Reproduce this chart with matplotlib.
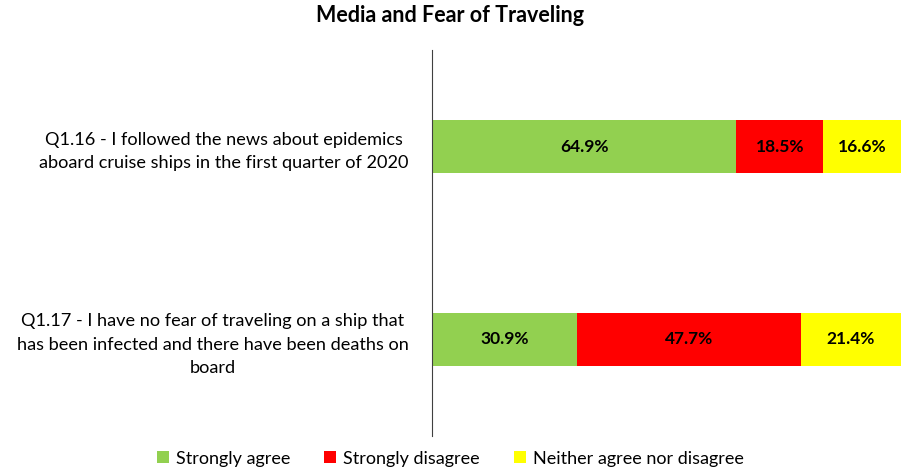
import numpy as np
import matplotlib.pyplot as plt

plt.rcParams['font.family'] = ['Lato', 'DejaVu Sans']

questions = ['Q1.16 - I followed the news about epidemics\naboard cruise ships in the first quarter of 2020',
             'Q1.17 - I have no fear of traveling on a ship that\nhas been infected and there have been deaths on\nboard']
agree = [64.9, 30.9]
disagree = [18.5, 47.7]
neither = [16.6, 21.4]
series_names = ['Strongly agree', 'Strongly disagree', 'Neither agree nor disagree']
colors = ['#92D050', '#FF0000', '#FFFF00']

fig = plt.figure(figsize=(9.01, 4.71), dpi=100)
ax = fig.add_axes([432 / 901, 1 - 436 / 471, 469 / 901, 386 / 471])

y = np.array([1, 0])
left = np.zeros(2)
for vals, name, c in zip([agree, disagree, neither], series_names, colors):
    vals = np.array(vals)
    bars = ax.barh(y, vals, left=left, height=0.27, color=c, label=name)
    for b, v in zip(bars, vals):
        ax.text(b.get_x() + b.get_width() / 2, b.get_y() + b.get_height() / 2,
                '%.1f%%' % v, ha='center', va='center', fontsize=12.5, fontweight='bold')
    left = left + vals

ax.set_xlim(0, 100)
ax.set_ylim(-0.5, 1.5)
ax.set_xticks([])
ax.set_yticks(y)
ax.set_yticklabels(questions, fontsize=13.1, multialignment='center', linespacing=1.55)
ax.tick_params(axis='y', length=0, pad=17)
for s in ['top', 'right', 'bottom']:
    ax.spines[s].set_visible(False)
ax.spines['left'].set_color('#404040')

fig.suptitle('Media and Fear of Traveling', y=0.99, fontsize=15.5, fontweight='bold')
fig.legend(loc='lower center', bbox_to_anchor=(0.5, -0.025), ncol=3, frameon=False,
           fontsize=13.0, handlelength=0.65, handleheight=0.65, handletextpad=0.4,
           columnspacing=1.9)

fig.savefig('out.png', dpi=100)
